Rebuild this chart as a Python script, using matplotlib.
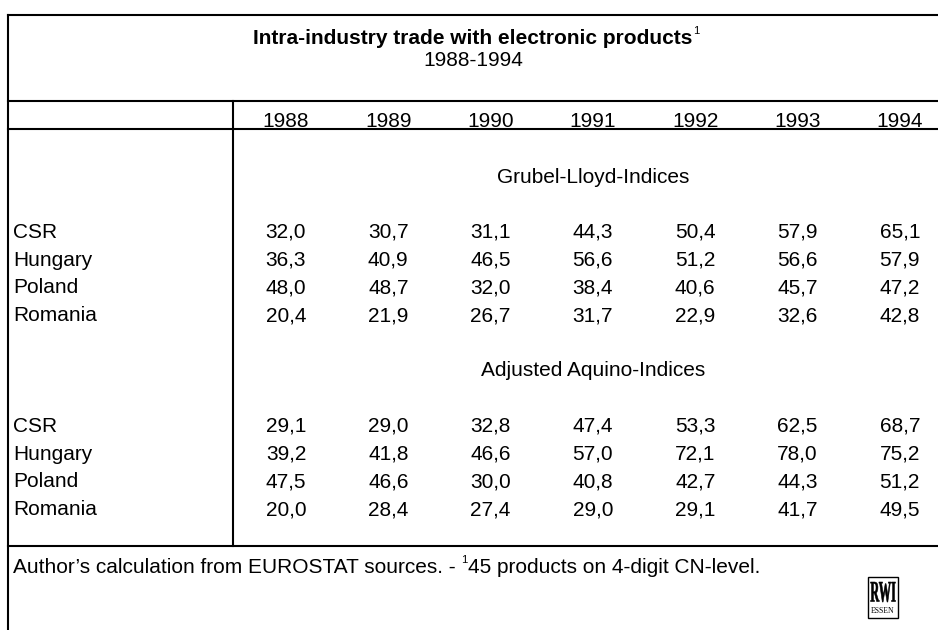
"""
Intra-industry trade with electronic products, 1988-1994 (table as figure)
"""

import matplotlib.pyplot as plt
from matplotlib.patches import Rectangle, PathPatch
from matplotlib.textpath import TextPath
from matplotlib.font_manager import FontProperties
from matplotlib.transforms import Affine2D

# Dados da tabela
anos = ['1988', '1989', '1990', '1991', '1992', '1993', '1994']
paises = ['CSR', 'Hungary', 'Poland', 'Romania']

grubel_lloyd = [
    ['32,0', '30,7', '31,1', '44,3', '50,4', '57,9', '65,1'],
    ['36,3', '40,9', '46,5', '56,6', '51,2', '56,6', '57,9'],
    ['48,0', '48,7', '32,0', '38,4', '40,6', '45,7', '47,2'],
    ['20,4', '21,9', '26,7', '31,7', '22,9', '32,6', '42,8'],
]
aquino = [
    ['29,1', '29,0', '32,8', '47,4', '53,3', '62,5', '68,7'],
    ['39,2', '41,8', '46,6', '57,0', '72,1', '78,0', '75,2'],
    ['47,5', '46,6', '30,0', '40,8', '42,7', '44,3', '51,2'],
    ['20,0', '28,4', '27,4', '29,0', '29,1', '41,7', '49,5'],
]

plt.rcParams['font.family'] = ['Liberation Sans', 'DejaVu Sans']
FS = 15
LW = 1.5

fig = plt.figure(figsize=(9.38, 6.3), dpi=100)
ax = fig.add_axes([0, 0, 1, 1])
ax.set_xlim(0, 938)
ax.set_ylim(630, 0)
ax.axis('off')

# linhas da tabela
x0, x1 = 8, 938
ax.plot([x0, x1], [15, 15], color='black', lw=LW)
ax.plot([x0, x0], [15, 630], color='black', lw=LW)
ax.plot([x0, x1], [101, 101], color='black', lw=LW)
ax.plot([x0, x1], [129, 129], color='black', lw=LW)
ax.plot([233, 233], [101, 546], color='black', lw=LW)
ax.plot([x0, x1], [546, 546], color='black', lw=LW)

# título
t = ax.text(473, 44, 'Intra-industry trade with electronic products', ha='center',
            va='baseline', fontsize=FS, fontweight='bold')
ax.annotate('1', xy=(1, 1), xycoords=t, xytext=(0.5, 2), textcoords='offset points',
            ha='left', va='top', fontsize=8)
ax.text(473, 66, '1988-1994', ha='center', va='baseline', fontsize=FS)

# colunas
col_x = [286 + i * 102.3 for i in range(len(anos))]
for x, a in zip(col_x, anos):
    ax.text(x, 127, a, ha='center', va='baseline', fontsize=FS)

centro = (col_x[0] + col_x[-1]) / 2
ax.text(centro, 183, 'Grubel-Lloyd-Indices', ha='center', va='baseline', fontsize=FS)
ax.text(centro, 376, 'Adjusted Aquino-Indices', ha='center', va='baseline', fontsize=FS)

passo = 27.7
for bloco, y0 in ((grubel_lloyd, 238), (aquino, 432)):
    for i, pais in enumerate(paises):
        y = y0 + i * passo
        ax.text(13, y, pais, ha='left', va='baseline', fontsize=FS)
        for x, v in zip(col_x, bloco[i]):
            ax.text(x, y, v, ha='center', va='baseline', fontsize=FS)

# nota de rodapé
n1 = ax.text(13, 573, 'Author\u2019s calculation from EUROSTAT sources. - ', ha='left',
             va='baseline', fontsize=FS)
sup = ax.annotate('1', xy=(1, 1), xycoords=n1, xytext=(0, 2), textcoords='offset points',
                  ha='left', va='top', fontsize=8)
ax.annotate('45 products on 4-digit CN-level.', xy=(1, 0), xycoords=(sup, n1),
            ha='left', va='bottom', fontsize=FS)

# logo RWI
ax.add_patch(Rectangle((868, 577), 30, 41, fill=False, edgecolor='black', lw=1))
serif_b = FontProperties(family='Liberation Serif', weight='bold')
tp = TextPath((0, 0), 'RWI', size=10, prop=serif_b)
bb = tp.get_extents()
sx, sy = 25 / bb.width, 20 / bb.height
tr = Affine2D().translate(-bb.x0, -bb.y0).scale(sx, -sy).translate(870.5, 602)
ax.add_patch(PathPatch(tr.transform_path(tp), facecolor='black', edgecolor='black', lw=0.4))
ax.text(883, 613, 'ESSEN', ha='center', va='baseline', fontsize=5.5,
        family='Liberation Serif')

plt.savefig('out.png', dpi=100)
